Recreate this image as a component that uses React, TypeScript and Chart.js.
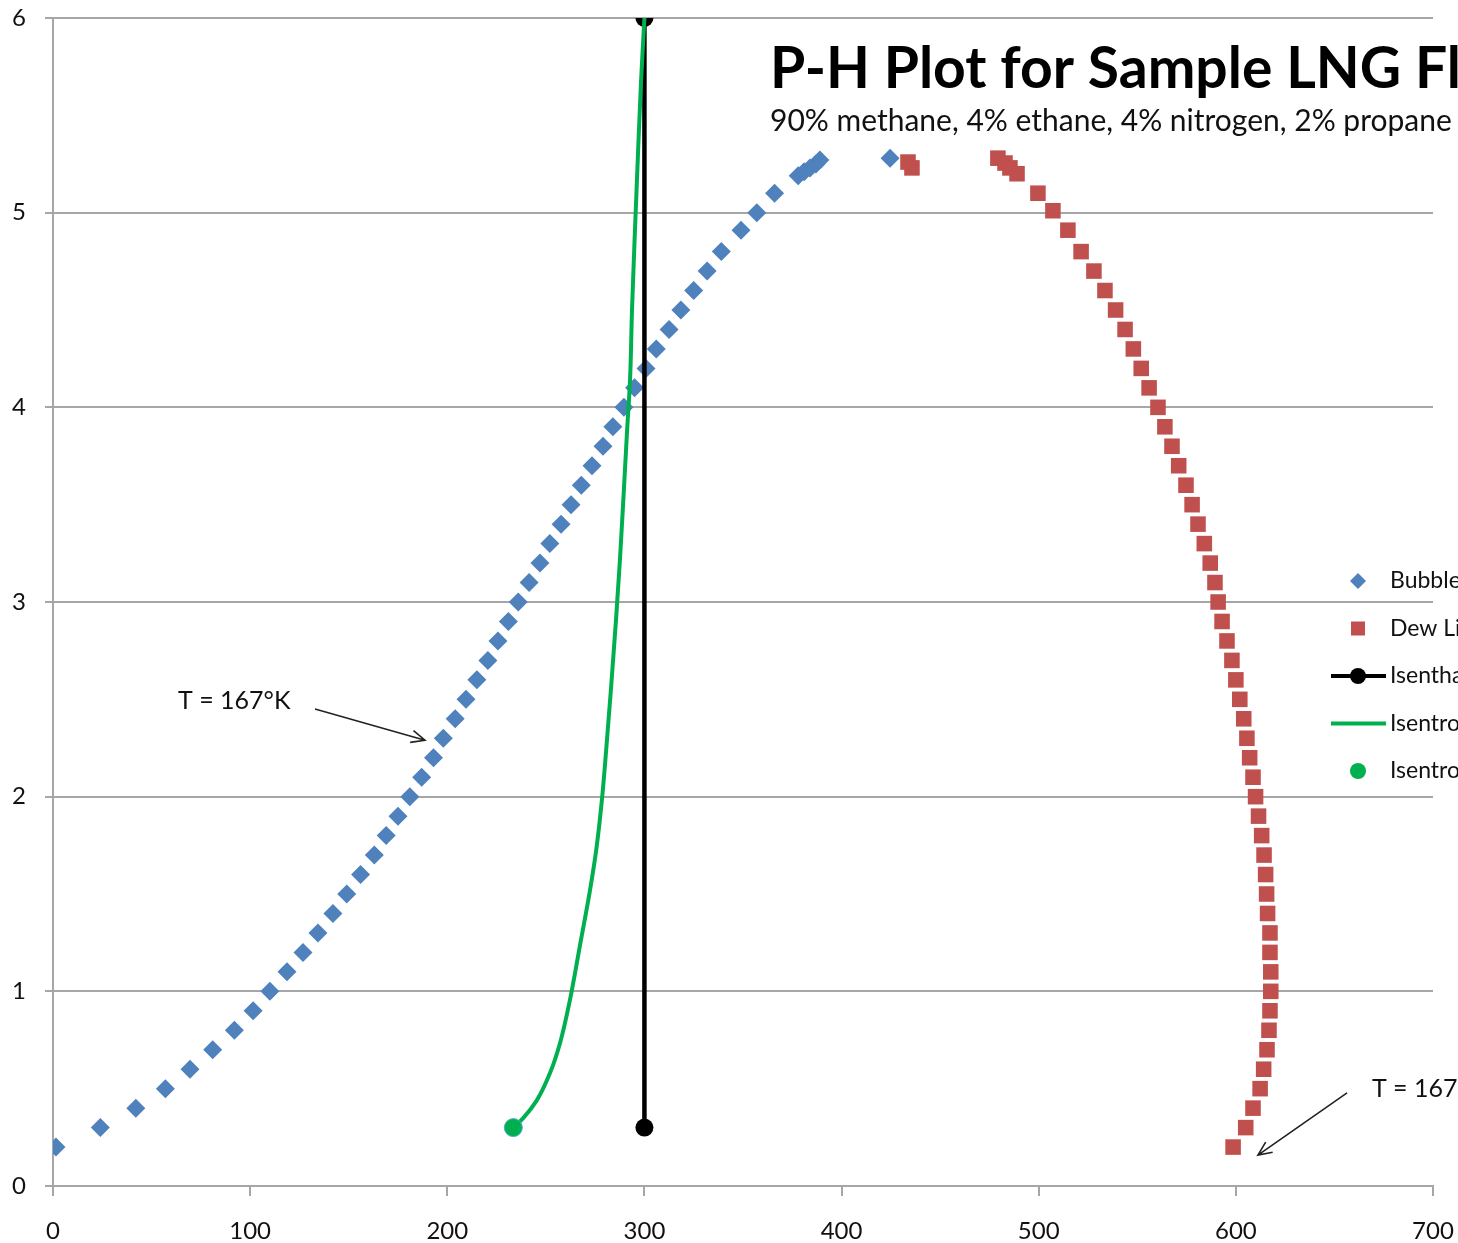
import React, { useEffect, useRef } from "react";
import { Chart, registerables } from "chart.js";

Chart.register(...registerables);

const W = 1458;
const H = 1243;

// ---- data (enthalpy, pressure) ----
const bubbleH = [1.5, 24, 42, 57, 69.5, 81, 92, 101.5, 110, 118.7, 126.8, 134.4, 142, 149, 156, 163, 169, 175, 181, 187, 193, 198, 204, 209.5, 215, 220.6, 225.7, 231, 236, 241.5, 247, 252, 257.7, 262.8, 268, 273.4, 279, 284, 289.6, 295, 300.8, 306, 312.5, 318.5, 325, 331.8, 339, 349, 357, 366, 378, 381, 384, 387, 389, 424.6];
const bubbleP = [0.2, 0.3, 0.4, 0.5, 0.6, 0.7, 0.8, 0.9, 1.0, 1.1, 1.2, 1.3, 1.4, 1.5, 1.6, 1.7, 1.8, 1.9, 2.0, 2.1, 2.2, 2.3, 2.4, 2.5, 2.6, 2.7, 2.8, 2.9, 3.0, 3.1, 3.2, 3.3, 3.4, 3.5, 3.6, 3.7, 3.8, 3.9, 4.0, 4.1, 4.2, 4.3, 4.4, 4.5, 4.6, 4.7, 4.8, 4.91, 5.0, 5.1, 5.19, 5.21, 5.23, 5.25, 5.27, 5.28];

const dewH = [433.7, 435.7, 479.3, 482.9, 485.4, 489, 499.6, 507.2, 514.8, 521.5, 528, 533.6, 539, 543.8, 548, 552, 556, 560.5, 564, 567.6, 571, 574.7, 577.8, 580.8, 584, 587, 589.4, 591, 593, 595.5, 598, 600, 602, 604, 605.6, 607, 608.7, 610, 611.5, 613.1, 614.3, 615.1, 615.6, 616.1, 617.3, 617.3, 617.7, 617.7, 617.3, 616.8, 615.8, 614.1, 612.3, 608.7, 605, 598.6];
const dewP = [5.26, 5.23, 5.28, 5.255, 5.23, 5.2, 5.1, 5.01, 4.91, 4.8, 4.7, 4.6, 4.5, 4.4, 4.3, 4.2, 4.1, 4.0, 3.9, 3.8, 3.7, 3.6, 3.5, 3.4, 3.3, 3.2, 3.1, 3.0, 2.9, 2.8, 2.7, 2.6, 2.5, 2.4, 2.3, 2.2, 2.1, 2.0, 1.9, 1.8, 1.7, 1.6, 1.5, 1.4, 1.3, 1.2, 1.1, 1.0, 0.9, 0.8, 0.7, 0.6, 0.5, 0.4, 0.3, 0.2];

const isenthalpH = [300, 300];
const isenthalpP = [0.3, 6];

const isentropeH = [233.5, 238.6, 245.4, 252.1, 257.2, 262.2, 267.2, 272.4, 275.6, 278.4, 280.6, 283, 285.6, 287.6, 289.6, 291.2, 292.7, 293.7, 295.2, 296.8, 298.3, 300];
const isentropeP = [0.3, 0.35, 0.44, 0.58, 0.735, 0.955, 1.23, 1.52, 1.73, 1.98, 2.24, 2.55, 2.91, 3.22, 3.58, 3.88, 4.14, 4.5, 4.91, 5.32, 5.68, 6];

const endPointH = [233.5];
const endPointP = [0.3];

const xTickValues = [0, 100, 200, 300, 400, 500, 600, 700];
const yTickValues = [0, 1, 2, 3, 4, 5, 6];

const seriesNames = ["Bubble Line", "Dew Line", "Isenthalpic Expansion", "Isentropic Expansion", "Isentropic End Point"];

const titleText = "P-H Plot for Sample LNG Fluid";
const subtitleText = "90% methane, 4% ethane, 4% nitrogen, 2% propane by mole";

// annotation: text anchor (H, P), arrow from (H, P) to (H, P)
const annotationTexts = ["T = 167°K", "T = 167°K"];
const annotationTextH = [63.4, 669];
const annotationTextP = [2.5, 0.51];
const arrowFromH = [132.9, 656.4];
const arrowFromP = [2.45, 0.478];
const arrowToH = [188.7, 611.2];
const arrowToP = [2.29, 0.159];

const BLUE = "#4f81bd";
const RED = "#c0504d";
const GREEN = "#00b050";
const BLACK = "#000000";
const FONT = "Lato";

const zip = (xs: number[], ys: number[]) => xs.map((x, i) => ({ x, y: ys[i] }));

const overlayPlugin = {
  id: "overlay",
  afterDraw(chart: any) {
    const ctx: CanvasRenderingContext2D = chart.ctx;
    const xs = chart.scales.x;
    const ys = chart.scales.y;
    ctx.save();
    // title
    ctx.fillStyle = "#000";
    ctx.textBaseline = "alphabetic";
    ctx.textAlign = "left";
    ctx.font = `bold 57px ${FONT}`;
    ctx.fillText(titleText, 770, 88);
    ctx.font = `30px ${FONT}`;
    ctx.fillStyle = "#111";
    ctx.fillText(subtitleText, 770, 131);

    // annotations
    ctx.font = `25px ${FONT}`;
    ctx.textBaseline = "middle";
    ctx.fillStyle = "#111";
    for (let i = 0; i < annotationTexts.length; i++) {
      ctx.fillText(annotationTexts[i], xs.getPixelForValue(annotationTextH[i]), ys.getPixelForValue(annotationTextP[i]) + 2);
      const x1 = xs.getPixelForValue(arrowFromH[i]);
      const y1 = ys.getPixelForValue(arrowFromP[i]);
      const x2 = xs.getPixelForValue(arrowToH[i]);
      const y2 = ys.getPixelForValue(arrowToP[i]);
      ctx.strokeStyle = "#222";
      ctx.lineWidth = 1.6;
      ctx.beginPath();
      ctx.moveTo(x1, y1);
      ctx.lineTo(x2, y2);
      const a = Math.atan2(y2 - y1, x2 - x1);
      const L = 15;
      const sp = 0.42;
      ctx.moveTo(x2 - L * Math.cos(a - sp), y2 - L * Math.sin(a - sp));
      ctx.lineTo(x2, y2);
      ctx.lineTo(x2 - L * Math.cos(a + sp), y2 - L * Math.sin(a + sp));
      ctx.stroke();
    }

    // legend
    const lx = 1358;
    const ly0 = 581;
    const step = 47.5;
    ctx.font = `23px ${FONT}`;
    ctx.textBaseline = "middle";
    for (let i = 0; i < seriesNames.length; i++) {
      const y = ly0 + i * step;
      ctx.fillStyle = "#111";
      ctx.fillText(seriesNames[i], 1390, y);
      if (i === 0) {
        ctx.fillStyle = BLUE;
        ctx.beginPath();
        ctx.moveTo(lx, y - 8);
        ctx.lineTo(lx + 8, y);
        ctx.lineTo(lx, y + 8);
        ctx.lineTo(lx - 8, y);
        ctx.closePath();
        ctx.fill();
      } else if (i === 1) {
        ctx.fillStyle = RED;
        ctx.fillRect(lx - 7, y - 7, 14, 14);
      } else if (i === 2) {
        ctx.strokeStyle = BLACK;
        ctx.lineWidth = 4;
        ctx.beginPath();
        ctx.moveTo(1331, y);
        ctx.lineTo(1386, y);
        ctx.stroke();
        ctx.fillStyle = BLACK;
        ctx.beginPath();
        ctx.arc(lx, y, 8, 0, Math.PI * 2);
        ctx.fill();
      } else if (i === 3) {
        ctx.strokeStyle = GREEN;
        ctx.lineWidth = 4;
        ctx.beginPath();
        ctx.moveTo(1331, y);
        ctx.lineTo(1386, y);
        ctx.stroke();
      } else {
        ctx.fillStyle = GREEN;
        ctx.beginPath();
        ctx.arc(lx, y, 8, 0, Math.PI * 2);
        ctx.fill();
      }
    }
    ctx.restore();
  },
};

export default function App() {
  const canvasRef = useRef<HTMLCanvasElement | null>(null);

  useEffect(() => {
    document.body.style.margin = "0";
    const canvas = canvasRef.current;
    if (!canvas) return;
    const chart = new Chart(canvas, {
      type: "scatter",
      data: {
        datasets: [
          {
            label: seriesNames[0],
            data: zip(bubbleH, bubbleP),
            pointStyle: "rectRot",
            pointRadius: 9.5,
            pointBackgroundColor: BLUE,
            pointBorderColor: BLUE,
            pointBorderWidth: 0,
            showLine: false,
            order: 5,
          },
          {
            label: seriesNames[1],
            data: zip(dewH, dewP),
            pointStyle: "rect",
            pointRadius: 11,
            pointBackgroundColor: RED,
            pointBorderColor: RED,
            pointBorderWidth: 0,
            showLine: false,
            order: 4,
          },
          {
            label: seriesNames[2],
            data: zip(isenthalpH, isenthalpP),
            showLine: true,
            borderColor: BLACK,
            borderWidth: 4.5,
            pointStyle: "circle",
            pointRadius: 9,
            pointBackgroundColor: BLACK,
            pointBorderColor: BLACK,
            pointBorderWidth: 0,
            order: 3,
          },
          {
            label: seriesNames[3],
            data: zip(isentropeH, isentropeP),
            showLine: true,
            borderColor: GREEN,
            borderWidth: 4,
            indexAxis: "y",
            cubicInterpolationMode: "monotone",
            pointRadius: 0,
            order: 2,
          },
          {
            label: seriesNames[4],
            data: zip(endPointH, endPointP),
            showLine: false,
            pointStyle: "circle",
            pointRadius: 9,
            pointBackgroundColor: GREEN,
            pointBorderColor: "#4bacc6",
            pointBorderWidth: 1,
            order: 1,
          },
        ],
      },
      options: {
        responsive: false,
        animation: false,
        devicePixelRatio: 1,
        layout: { padding: { top: 18, right: 25, left: 0, bottom: 0 } },
        plugins: {
          legend: { display: false },
          title: { display: false },
          tooltip: { enabled: false },
        },
        scales: {
          x: {
            type: "linear",
            min: 0,
            max: 700,
            afterBuildTicks: (s: any) => {
              s.ticks = xTickValues.map((v) => ({ value: v }));
            },
            afterFit: (s: any) => {
              s.height = 57;
              s.paddingLeft = 0;
              s.paddingRight = 0;
              s.paddingTop = 0;
              s.paddingBottom = 0;
            },
            grid: {
              drawOnChartArea: false,
              drawTicks: true,
              tickLength: 10,
              color: "#a6a6a6",
              lineWidth: 2,
            },
            border: { display: true, color: "#a6a6a6", width: 2 },
            ticks: {
              color: "#111",
              padding: 21,
              font: { family: FONT, size: 24 },
              maxRotation: 0,
            },
          },
          y: {
            type: "linear",
            min: 0,
            max: 6,
            afterBuildTicks: (s: any) => {
              s.ticks = yTickValues.map((v) => ({ value: v }));
            },
            afterFit: (s: any) => {
              s.width = 53;
              s.paddingLeft = 0;
              s.paddingRight = 0;
              s.paddingTop = 0;
              s.paddingBottom = 0;
            },
            grid: {
              drawOnChartArea: true,
              drawTicks: true,
              tickLength: 8,
              color: "#a6a6a6",
              lineWidth: 2,
            },
            border: { display: true, color: "#a6a6a6", width: 2 },
            ticks: {
              color: "#111",
              padding: 19,
              font: { family: FONT, size: 24 },
            },
          },
        },
      },
      plugins: [overlayPlugin],
    } as any);
    return () => chart.destroy();
  }, []);

  return (
    <div style={{ position: "fixed", left: 0, top: 0, width: W, height: H, overflow: "hidden", background: "#fff" }}>
      <canvas ref={canvasRef} width={W} height={H} style={{ display: "block", width: W, height: H }} />
    </div>
  );
}
